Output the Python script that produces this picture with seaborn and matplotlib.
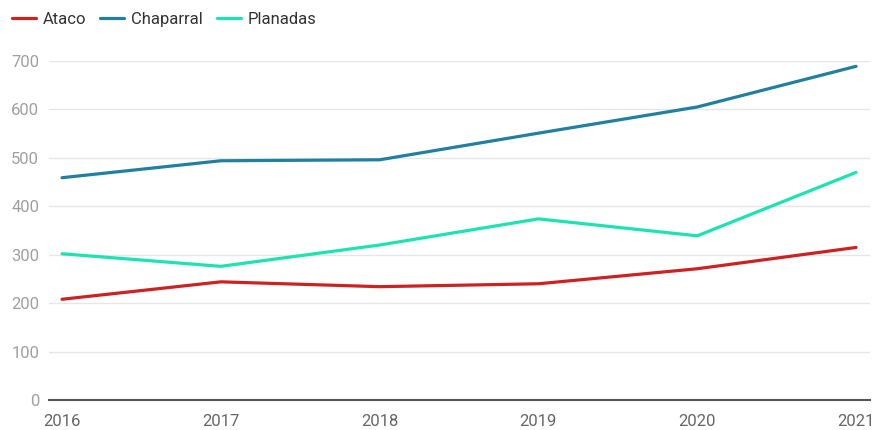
import pandas as pd
import matplotlib.pyplot as plt
import seaborn as sns

years = [2016, 2017, 2018, 2019, 2020, 2021]
ataco = [208, 244, 234, 240, 271, 315]
chaparral = [459, 494, 496, 551, 605, 689]
planadas = [302, 276, 320, 374, 339, 470]

series_names = ["Ataco", "Chaparral", "Planadas"]
colors = ["#cc2222", "#22809f", "#1de3b0"]

df = pd.DataFrame({
    "year": years * 3,
    "value": ataco + chaparral + planadas,
    "series": [s for s in series_names for _ in years],
})

sns.set_style("white")
plt.rcParams["font.family"] = ["Roboto", "DejaVu Sans"]

fig = plt.figure(figsize=(8.74, 4.30), dpi=100)
ax = fig.add_axes([49 / 874, 1 - 400 / 430, (870 - 49) / 874, (400 - 61) / 430])

sns.lineplot(data=df, x="year", y="value", hue="series", palette=colors,
             linewidth=2.3, ax=ax, legend=False)

ax.set_xlim(2016 - 0.082, 2021 + 0.088)
ax.set_ylim(0, 700)
ax.set_yticks(range(0, 701, 100))
ax.set_xticks(years)
ax.set_xlabel("")
ax.set_ylabel("")
ax.yaxis.grid(True, color="#e6e6e6", linewidth=1)
ax.set_axisbelow(True)
for side in ["top", "right", "left"]:
    ax.spines[side].set_visible(False)
ax.spines["bottom"].set_color("#555555")
ax.spines["bottom"].set_linewidth(1.5)
ax.tick_params(axis="y", length=0, labelsize=12, labelcolor="#a0a0a0", pad=7)
ax.tick_params(axis="x", length=0, labelsize=12, labelcolor="#666666", pad=10)

# legend row at the top
handles = [plt.Line2D([0], [0], color=c, linewidth=2.3) for c in colors]
fig.legend(handles, series_names, loc="upper left", bbox_to_anchor=(0.0, 1.0),
           ncol=3, frameon=False, fontsize=12, handlelength=1.45,
           handletextpad=0.4, columnspacing=0.85, borderaxespad=0.3,
           labelcolor="#333333")

fig.savefig("out.png", dpi=100)
